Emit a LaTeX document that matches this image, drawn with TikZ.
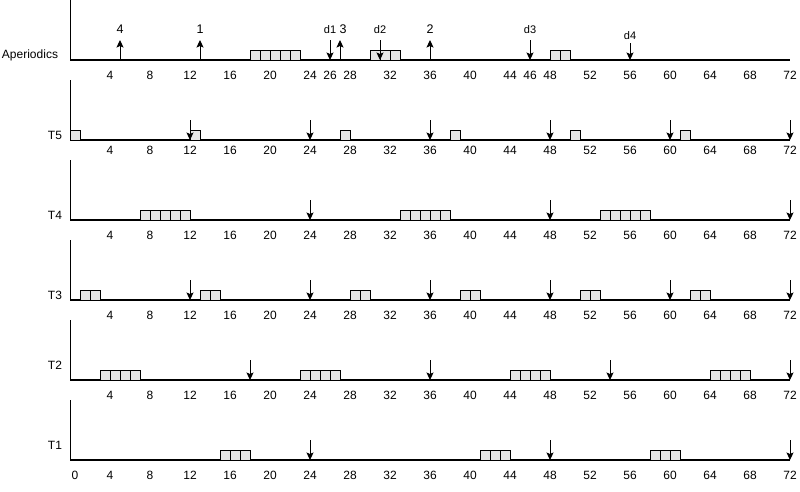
\documentclass[tikz,border=0pt]{standalone}
\usepackage{fontspec}
\setmainfont{Liberation Sans}
\usetikzlibrary{arrows.meta}
\definecolor{cellfill}{HTML}{E6E6E6}
\begin{document}
\begin{tikzpicture}[x=1pt,y=-1pt,
  cell/.style={draw=black, fill=cellfill, line width=0.9pt, minimum width=10pt, minimum height=10pt, inner sep=0pt, outer sep=0pt, anchor=south west},
  baseline/.style={line width=1.6pt},
  vaxis/.style={line width=0.9pt},
  rel/.style={-{Stealth[length=7.5pt,width=7pt,inset=1.5pt]}, line width=1pt},
  ticklab/.style={font=\fontsize{12}{14}\selectfont, inner sep=0pt},
  rowlab/.style={font=\fontsize{12}{14}\selectfont, inner sep=0pt},
  arrlab/.style={font=\fontsize{12.5}{14}\selectfont, inner sep=0pt},
  dlab/.style={font=\fontsize{11}{13}\selectfont, inner sep=0pt}
]
\useasboundingbox (0,0) rectangle (800,491);

% axes
\foreach \nm/\y in {ap/60,t5/140,t4/220,t3/300,t2/380,t1/460}{
  \coordinate (\nm-o) at (70,\y);
  \coordinate (\nm-top) at (70,\y-60);
  \coordinate (\nm-end) at (790,\y);
  \draw[vaxis] (\nm-top) -- (\nm-o);
  \draw[baseline] (\nm-o) -- (\nm-end);
}

% row names
\node[rowlab] (lab-ap) at (30,55) {Aperiodics};
\node[rowlab] (lab-t5) at (55,135) {T5};
\node[rowlab] (lab-t4) at (55,215) {T4};
\node[rowlab] (lab-t3) at (55,295) {T3};
\node[rowlab] (lab-t2) at (55,365) {T2};
\node[rowlab] (lab-t1) at (55,445) {T1};

% execution cells
\foreach \nm/\y/\s/\e in {ap/60/18/22, ap/60/30/32, ap/60/48/49,
  t5/140/0/0, t5/140/12/12, t5/140/27/27, t5/140/38/38, t5/140/50/50, t5/140/61/61,
  t4/220/7/11, t4/220/33/37, t4/220/53/57,
  t3/300/1/2, t3/300/13/14, t3/300/28/29, t3/300/39/40, t3/300/51/52, t3/300/62/63,
  t2/380/3/6, t2/380/23/26, t2/380/44/47, t2/380/64/67,
  t1/460/15/17, t1/460/41/43, t1/460/58/60}{
  \foreach \t in {\s,...,\e}{
    \node[cell] (\nm-c\t) at (70+10*\t,\y) {};
  }
}

% periodic deadlines / releases (down arrows)
\foreach \nm/\y/\t in {t5/140/12, t5/140/24, t5/140/36, t5/140/48, t5/140/60, t5/140/72,
  t4/220/24, t4/220/48, t4/220/72,
  t3/300/12, t3/300/24, t3/300/36, t3/300/48, t3/300/60, t3/300/72,
  t2/380/18, t2/380/36, t2/380/54, t2/380/72,
  t1/460/24, t1/460/48, t1/460/72}{
  \coordinate (\nm-a\t-s) at (70+10*\t,\y-20);
  \coordinate (\nm-a\t-e) at (70+10*\t,\y);
  \draw[rel] (\nm-a\t-s) -- (\nm-a\t-e);
}

% aperiodic arrivals (up arrows)
\foreach \t/\lx/\lab in {5/120/4, 13/200/1, 27/343/3, 36/430/2}{
  \coordinate (up\t-s) at (70+10*\t,60);
  \coordinate (up\t-e) at (70+10*\t,40);
  \draw[rel] (up\t-s) -- (up\t-e);
  \node[arrlab] (uplab\t) at (\lx,29.5) {\lab};
}

% aperiodic deadlines (down arrows)
\foreach \t/\top/\ly/\lab in {26/40/30/d1, 31/40/30/d2, 46/40/30/d3, 56/43/36/d4}{
  \coordinate (dn\t-s) at (70+10*\t,\top);
  \coordinate (dn\t-e) at (70+10*\t,60);
  \draw[rel] (dn\t-s) -- (dn\t-e);
  \node[dlab] (dnlab\t) at (70+10*\t,\ly) {\lab};
}

% tick labels
\foreach \t in {4,8,12,16,20,24,26,28,32,36,40,44,46,48,52,56,60,64,68,72}{
  \node[ticklab] (ap-l\t) at (70+10*\t,75) {\t};
}
\foreach \nm/\y in {t5/150,t4/235,t3/315,t2/395,t1/475}{
  \foreach \t in {4,8,...,72}{
    \node[ticklab] (\nm-l\t) at (70+10*\t,\y) {\t};
  }
}
\node[ticklab] (t1-l0) at (75,475) {0};
\end{tikzpicture}
\end{document}
